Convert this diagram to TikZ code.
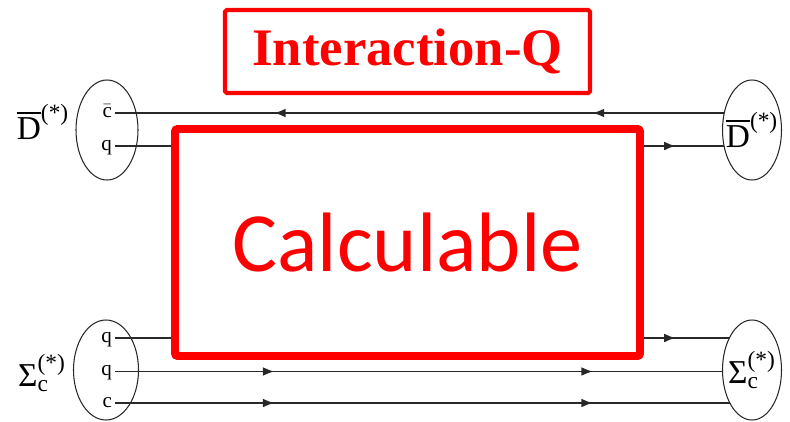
\documentclass[tikz,border=0pt]{standalone}
\usepackage{amsmath}
\usepackage{fontspec}
\setmainfont{Liberation Serif}
\newfontfamily\calibfont{Carlito}
\definecolor{hlred}{RGB}{255,0,0}
\definecolor{lnblack}{RGB}{40,40,40}
\usetikzlibrary{arrows.meta,positioning,shapes.geometric,decorations.markings,backgrounds}

\begin{document}
\begin{tikzpicture}[
  quark/.style={draw=lnblack, line width=0.8pt},
  fwd/.style={postaction={decorate, decoration={markings, mark=at position #1 with {\arrow{Latex[length=6.5pt,width=5pt]}}}}},
  hadron/.style={draw=lnblack, line width=0.6pt, ellipse, minimum height=2cm, inner sep=0pt},
  flav/.style={anchor=east, inner sep=1.5pt, text height=1ex, text depth=0pt, font=\fontsize{12}{14}\selectfont},
  hname/.style={inner sep=0pt, font=\fontsize{19}{22}\selectfont}
]
  \useasboundingbox (0,0) rectangle (15.8,8.42);
  % Title
  \node[draw=hlred, line width=2.3pt, rounded corners=1pt, minimum width=7.3cm, minimum height=1.66cm, text=hlred, font=\fontsize{30}{34}\selectfont\bfseries] (title) at (8.15,7.39) {Interaction-Q};
  % Left hadrons
  \node[hadron, minimum width=1.24cm] (Dl) at (2.14,5.82) {};
  \node[hname] (DlName) at (0.86,5.98) {$\overline{\text{D}}^{\text{(*)}}$};
  \node[flav] (cb) at (2.3,6.16) {$\bar{\text{c}}$};
  \node[flav] (qD) at (2.3,5.5) {q};
  \node[hadron, minimum width=1.3cm] (Sl) at (2.12,1.02) {};
  \node[hname] (SlName) at (0.84,0.96) {Σ$_{\text{c}}^{\text{(*)}}$};
  \node[flav] (q1) at (2.3,1.66) {q};
  \node[flav] (q2) at (2.3,0.99) {q};
  \node[flav] (cS) at (2.3,0.36) {c};
  % Right hadrons
  \node[hadron, fill=white, minimum width=1.18cm] (Dr) at (15.04,5.82) {};
  \node[hname] (DrName) at (Dr) {$\overline{\text{D}}^{\text{(*)}}$};
  \node[hadron, fill=white, minimum width=1.18cm] (Sr) at (15.04,1.02) {};
  \node[hname] (SrName) at (Sr) {Σ$_{\text{c}}^{\text{(*)}}$};
  % Quark lines
  \begin{scope}[on background layer]
    \draw[quark, fwd=0.25, fwd=0.75] (Dr |- cb.east) -- (cb.east);
    \draw[quark, fwd=0.88] (qD.east) -- (Dr |- qD.east);
    \draw[quark, fwd=0.88] (q1.east) -- (Sr |- q1.east);
    \draw[quark, fwd=0.25, fwd=0.75] (q2.east) -- (Sr |- q2.east);
    \draw[quark, fwd=0.25, fwd=0.75] (cS.east) -- (Sr |- cS.east);
  \end{scope}
  % Interaction region
  \node[draw=hlred, fill=white, line width=4.5pt, rounded corners=1.5pt, minimum width=9.3cm, minimum height=4.54cm, text=hlred, font=\calibfont\fontsize{48}{56}\selectfont] (calc) at (8.15,3.57) {Calculable};
\end{tikzpicture}
\end{document}
